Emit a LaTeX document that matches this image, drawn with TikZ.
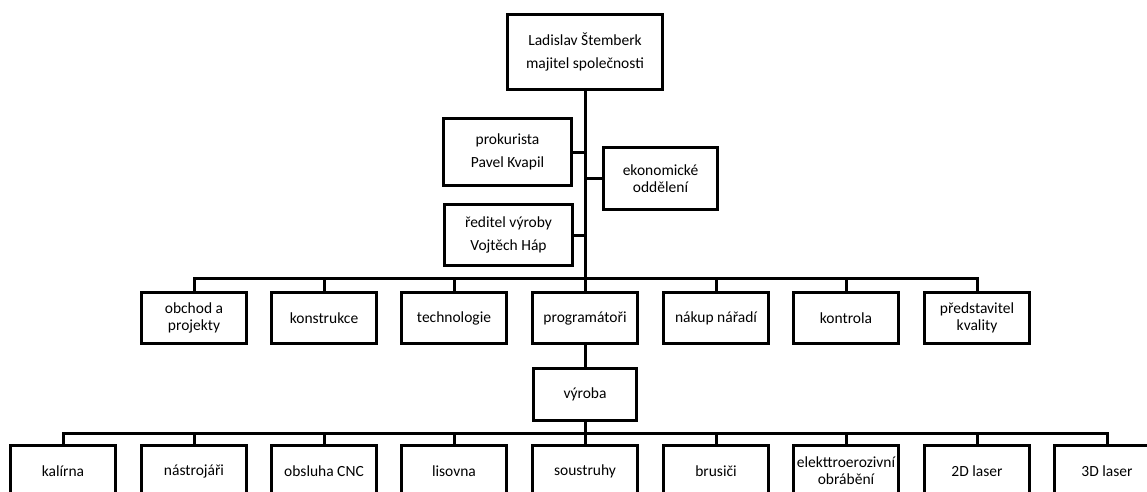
\documentclass[tikz,border=0pt]{standalone}
\usepackage{fontspec}
\setmainfont{Carlito}
\begin{document}
\begin{tikzpicture}[x=1pt,y=-1pt,
  box/.style={draw=black, line width=2.6pt, align=center, inner sep=0pt,
    font=\fontsize{15.5}{17}\selectfont},
  person/.style={box, font=\fontsize{15.5}{23}\selectfont},
  unit/.style={box, minimum width=105.5pt, minimum height=51.5pt},
  link/.style={line width=3pt}]
\useasboundingbox (0,0) rectangle (1147,491);
\clip (0,0) rectangle (1147,491);
\fill[white] (0,0) rectangle (1147,491);

\node[person, minimum width=155.5pt, minimum height=75.5pt] (top) at (585,52) {Ladislav Štemberk\\majitel společnosti};
\node[person, minimum width=128.5pt, minimum height=67.5pt] (prok) at (507.5,152) {prokurista\\Pavel Kvapil};
\node[box, minimum width=114.5pt, minimum height=62.5pt] (ekon) at (660.5,178.5) {ekonomické\\oddělení};
\node[person, minimum width=128.5pt, minimum height=61.5pt] (red) at (508.5,235) {ředitel výroby\\Vojtěch Háp};

\coordinate (busA) at (585,278.5);
\coordinate (busB) at (585,433);

\node[unit] (m1) at (194,318) {obchod a\\projekty};
\node[unit] (m2) at (324,318) {konstrukce};
\node[unit] (m3) at (454,318) {technologie};
\node[unit] (m4) at (585,318) {programátoři};
\node[unit] (m5) at (716,318) {nákup nářadí};
\node[unit] (m6) at (846,318) {kontrola};
\node[unit] (m7) at (977,318) {představitel\\kvality};

\node[box, minimum width=103.5pt, minimum height=52.5pt] (vyr) at (585,394.5) {výroba};

\node[unit] (b1) at (63,471) {kalírna};
\node[unit] (b2) at (194,471) {nástrojáři};
\node[unit] (b3) at (324,471) {obsluha CNC};
\node[unit] (b4) at (454,471) {lisovna};
\node[unit] (b5) at (585,471) {soustruhy};
\node[unit] (b6) at (716,471) {brusiči};
\node[unit] (b7) at (846,471) {elekttroerozivní\\obrábění};
\node[unit] (b8) at (977,471) {2D laser};
\node[unit] (b9) at (1107,471) {3D laser};

% trunk
\draw[link] (top.south) -- (top.south |- busA);
\draw[link] (prok.east) -- (prok.east -| top.south);
\draw[link] (ekon.west) -- (ekon.west -| top.south);
\draw[link] (red.east) -- (red.east -| top.south);

% middle bus
\draw[link] (m1.north) -- (m1.north |- busA) -- (m7.north |- busA) -- (m7.north);
\foreach \n in {m2,m3,m4,m5,m6}
  \draw[link] (\n.north) -- (\n.north |- busA);

\draw[link] (m4.south) -- (vyr.north);

% bottom bus
\draw[link] (vyr.south) -- (vyr.south |- busB);
\draw[link] (b1.north) -- (b1.north |- busB) -- (b9.north |- busB) -- (b9.north);
\foreach \n in {b2,b3,b4,b5,b6,b7,b8}
  \draw[link] (\n.north) -- (\n.north |- busB);
\end{tikzpicture}
\end{document}
